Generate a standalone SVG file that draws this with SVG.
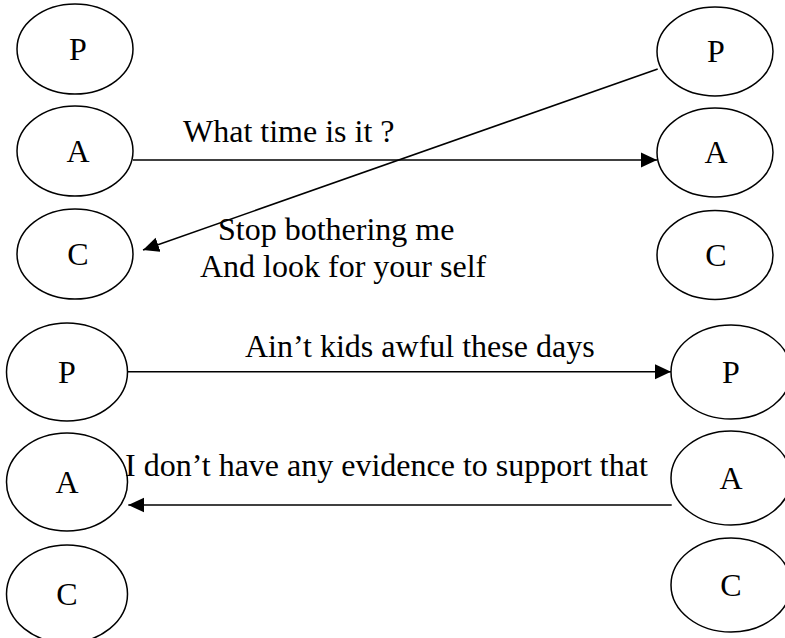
<svg xmlns="http://www.w3.org/2000/svg" width="785" height="638" viewBox="0 0 785 638">
  <style>
    .node ellipse { fill: #ffffff; stroke: #000000; stroke-width: 1.5; }
    .node text, .label { font-family: "Liberation Serif", "Times New Roman", serif; font-size: 32px; fill: #000000; }
    .node text { text-anchor: middle; }
    .conn line { stroke: #000000; stroke-width: 1.6; fill: none; marker-end: url(#arrow); }
  </style>
  <defs>
    <marker id="arrow" markerUnits="userSpaceOnUse" markerWidth="16" markerHeight="16" viewBox="0 0 15 14" refX="15" refY="7" orient="auto">
      <path d="M0,0 L15,7 L0,14 Z" fill="#000000"/>
    </marker>
  </defs>
  <rect width="785" height="638" fill="#ffffff"/>

  <g id="node-p1-left" class="node"><ellipse cx="75" cy="49" rx="58" ry="45"/><text x="78" y="59.5">P</text></g>
  <g id="node-a1-left" class="node"><ellipse cx="75" cy="151" rx="58" ry="45"/><text x="78" y="161.5">A</text></g>
  <g id="node-c1-left" class="node"><ellipse cx="75" cy="254" rx="58" ry="45"/><text x="78" y="264.5">C</text></g>

  <g id="node-p1-right" class="node"><ellipse cx="715" cy="51.5" rx="58" ry="44.5"/><text x="716" y="62">P</text></g>
  <g id="node-a1-right" class="node"><ellipse cx="715" cy="152.5" rx="58" ry="44.5"/><text x="716" y="163">A</text></g>
  <g id="node-c1-right" class="node"><ellipse cx="715" cy="255" rx="58" ry="44.5"/><text x="716" y="265.5">C</text></g>

  <g id="node-p2-left" class="node"><ellipse cx="67" cy="372" rx="60.5" ry="49"/><text x="67" y="382.5">P</text></g>
  <g id="node-a2-left" class="node"><ellipse cx="67" cy="482" rx="60.5" ry="49"/><text x="67" y="492.5">A</text></g>
  <g id="node-c2-left" class="node"><ellipse cx="67" cy="594" rx="60.5" ry="49"/><text x="67" y="604.5">C</text></g>

  <g id="node-p2-right" class="node"><ellipse cx="731" cy="372" rx="60" ry="47"/><text x="731" y="382.5">P</text></g>
  <g id="node-a2-right" class="node"><ellipse cx="731" cy="478" rx="60" ry="47"/><text x="731" y="488.5">A</text></g>
  <g id="node-c2-right" class="node"><ellipse cx="731" cy="585" rx="60" ry="47"/><text x="731" y="595.5">C</text></g>

  <g id="connectors" class="conn">
    <line x1="133" y1="160" x2="657" y2="160"/>
    <line x1="657.7" y1="69" x2="143" y2="250"/>
    <line x1="127.7" y1="371.7" x2="671" y2="371.7"/>
    <line x1="671.7" y1="505" x2="128.3" y2="505"/>
  </g>

  <g id="labels">
    <text class="label" x="183" y="141.7">What time is it ?</text>
    <text class="label" x="218" y="240">Stop bothering me</text>
    <text class="label" x="200" y="276.7">And look for your self</text>
    <text class="label" x="245" y="356.7">Ain’t kids awful these days</text>
    <text class="label" x="125" y="475.7">I don’t have any evidence to support that</text>
  </g>
</svg>
